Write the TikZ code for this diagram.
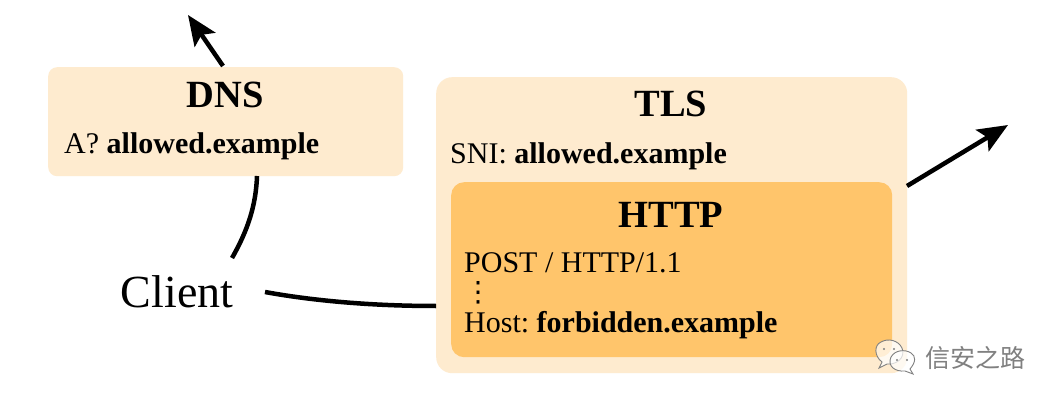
\documentclass[tikz,border=0pt]{standalone}
\usepackage{fontspec}
\setmainfont{Liberation Serif}
\newfontfamily\cjk{Noto Sans CJK SC}
\newfontfamily\dejavu{DejaVu Sans}
\usetikzlibrary{arrows.meta}
\definecolor{pale}{HTML}{FEEBCF}
\definecolor{deep}{HTML}{FFC56B}
\definecolor{wm}{HTML}{808080}
\tikzset{
  box/.style={fill=#1,draw=none,inner sep=0pt,anchor=north west},
  title/.style={font=\fontsize{38.5}{38.5}\selectfont\bfseries,anchor=base,inner sep=0pt},
  line/.style={font=\fontsize{30}{30}\selectfont,anchor=base west,inner sep=0pt},
  conn/.style={line width=4.5pt,black,line cap=butt},
  tip/.style={-{Stealth[length=30pt,width=25pt,inset=6pt]}},
  bubble/.style={draw=wm,line width=0.9pt,fill=white,fill opacity=0.72},
  eye/.style={fill=wm,draw=none}
}
\begin{document}
\begin{tikzpicture}[x=1pt,y=-1pt]
\useasboundingbox (0,0) rectangle (1060,406);
\fill[white] (0,0) rectangle (1060,406);
\node[box=pale,rounded corners=9pt,minimum width=355pt,minimum height=109pt] (dns) at (48,67) {};
\node[box=pale,rounded corners=16pt,minimum width=471pt,minimum height=296pt] (tls) at (436,77) {};
\node[box=deep,rounded corners=13pt,minimum width=441pt,minimum height=175pt] (http) at (451,182) {};
\node[title] (dnst) at (225,108) {DNS};
\node[line] (dnsq) at (64,154) {A? \textbf{allowed.example}};
\node[title] (tlst) at (671,117) {TLS};
\node[line] (sni) at (450,164) {SNI: \textbf{allowed.example}};
\node[title] (httpt) at (671,227) {HTTP};
\node[line] (post) at (464,272) {POST / HTTP/1.1};
\node[font=\dejavu\fontsize{28}{28}\selectfont,anchor=center,inner sep=0pt] (dots) at (478,293) {⋮};
\node[line] (host) at (464,332) {Host:\hspace{7.5pt}\textbf{forbidden.example}};
\node[font=\fontsize{46}{46}\selectfont,anchor=base,inner sep=0pt] (client) at (177,307) {Client};
\coordinate (dnsout) at (223,66);
\coordinate (dnsend) at (188,15);
\coordinate (tlsout) at (907,186);
\coordinate (tlsend) at (1008,125);
\coordinate (cup) at (232,258);
\coordinate (dnsin) at (257,176);
\coordinate (cright) at (265,292);
\coordinate (tlsin) at (436,306);
\draw[conn] (cup) .. controls (248,230) and (256,205) .. (dnsin);
\draw[conn] (cright) .. controls (320,302) and (380,306) .. (tlsin);
\draw[conn,tip] (dnsout) -- (dnsend);
\draw[conn,tip] (tlsout) -- (tlsend);
\node[font=\cjk\fontsize{25}{25}\selectfont,text=wm,anchor=base west,inner sep=0pt] (wmark) at (925,367) {信安之路};
\draw[bubble] (882,362) .. controls (874,356) and (874,345) .. (881,342) .. controls (888,338) and (898,340) .. (902,348) .. controls (906,358) and (896,365) .. (887,364) -- (879,368) -- cycle;
\draw[bubble] (910,369) .. controls (916,362) and (916,356) .. (911,353) .. controls (905,349) and (895,350) .. (891,357) .. controls (887,366) and (895,372) .. (905,371) -- (913,374) -- cycle;
\fill[eye] (884,349) circle (1.2pt) (894,349) circle (1.2pt) (897,360) circle (1.2pt) (907,360) circle (1.2pt);
\end{tikzpicture}
\end{document}
